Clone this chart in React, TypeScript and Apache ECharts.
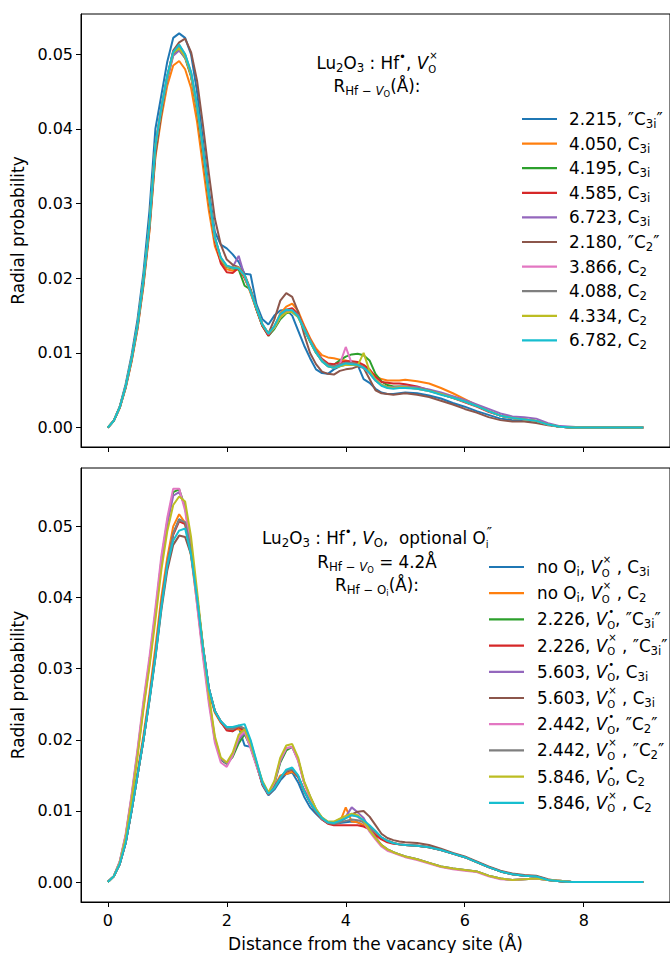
import React, { useEffect, useRef } from "react";
import * as echarts from "echarts";

// values are in units of 1e-4 (radial probability)
const UNIT = 1e-4;

const X_VALUES = [
  0, 0.1, 0.2, 0.3, 0.4, 0.5, 0.6, 0.7, 0.8, 0.9,
  1.0, 1.1, 1.2, 1.3, 1.4, 1.5, 1.6, 1.7, 1.8, 1.9,
  2.0, 2.1, 2.2, 2.3, 2.4, 2.5, 2.6, 2.7, 2.8, 2.9,
  3.0, 3.1, 3.2, 3.3, 3.4, 3.5, 3.6, 3.7, 3.8, 3.9,
  4.0, 4.1, 4.2, 4.3, 4.4, 4.5, 4.6, 4.7, 4.8, 4.9,
  5.0,
  5.2, 5.4, 5.6, 5.8, 6.0, 6.2, 6.4, 6.6, 6.8, 7.0,
  7.2, 7.4, 7.6, 7.8, 8.0, 8.2, 8.4, 8.6, 8.8, 9.0,
];

const X_TICKS = [0, 2, 4, 6, 8];
const Y_TICKS = [0, 0.01, 0.02, 0.03, 0.04, 0.05];

const COLORS = ["#1f77b4", "#ff7f0e", "#2ca02c", "#d62728", "#9467bd", "#8c564b", "#e377c2", "#7f7f7f", "#bcbd22", "#17becf"];

// ---------- top panel ----------
const TOP_1 = [
  0, 9, 28, 58, 97, 145, 208, 290, 400, 445,
  490, 522, 528, 522, 500, 450, 385, 318, 262, 245,
  240, 232, 222, 206, 205, 165, 145, 138, 150, 157,
  158, 150, 130, 110, 93, 78, 73, 72, 78, 82,
  84, 86, 84, 65, 60, 52, 47, 45, 45, 46,
  47,
  46, 43, 39, 33, 28, 22, 17, 12, 10, 9, 7, 4, 1, 0, 0, 0, 0, 0, 0, 0,
];
const TOP_2 = [
  0, 9, 26, 53, 88, 132, 190, 262, 362, 415,
  458, 485, 491, 480, 455, 410, 350, 290, 243, 222,
  212, 210, 212, 203, 180, 158, 136, 124, 135, 153,
  162, 166, 156, 137, 120, 106, 97, 94, 93, 91,
  90, 88, 86, 81, 76, 69, 65, 63, 63, 63,
  64,
  62, 59, 53, 46, 38, 30, 22, 16, 13, 11, 9, 4, 1, 0, 0, 0, 0, 0, 0, 0,
];
const TOP_3 = [
  0, 9, 27, 55, 92, 137, 198, 272, 376, 426,
  468, 500, 506, 495, 470, 425, 367, 304, 252, 225,
  215, 213, 212, 190, 185, 158, 136, 123, 132, 145,
  153, 155, 148, 132, 115, 100, 90, 85, 84, 90,
  95, 98, 99, 97, 90, 72, 62, 57, 55, 55,
  55,
  53, 50, 45, 40, 35, 29, 22, 16, 13, 11, 9, 4, 1, 0, 0, 0, 0, 0, 0, 0,
];
const TOP_4 = [
  0, 9, 27, 55, 92, 137, 198, 272, 378, 428,
  470, 503, 510, 498, 472, 428, 368, 305, 250, 220,
  208, 207, 214, 200, 182, 158, 136, 123, 135, 150,
  158, 160, 152, 135, 118, 103, 92, 86, 85, 87,
  89, 89, 88, 84, 78, 68, 61, 60, 59, 59,
  58,
  55, 50, 45, 40, 34, 28, 21, 16, 13, 11, 9, 4, 1, 0, 0, 0, 0, 0, 0, 0,
];
const TOP_5 = [
  0, 9, 27, 55, 92, 137, 197, 270, 374, 424,
  466, 498, 505, 496, 472, 430, 372, 308, 254, 226,
  216, 215, 230, 203, 183, 160, 138, 125, 134, 148,
  155, 156, 149, 132, 116, 101, 89, 82, 80, 83,
  86, 86, 84, 80, 73, 63, 57, 54, 54, 55,
  55,
  54, 51, 47, 42, 37, 31, 25, 19, 15, 14, 12, 6, 2, 1, 0, 0, 0, 0, 0, 0,
];
const TOP_6 = [
  0, 9, 26, 53, 89, 133, 192, 265, 365, 420,
  470, 505, 516, 521, 503, 465, 405, 340, 280, 245,
  225, 218, 215, 205, 185, 160, 137, 126, 145, 170,
  180, 175, 155, 125, 100, 85, 75, 72, 71, 76,
  78, 79, 82, 80, 65, 50, 46, 45, 44, 45,
  46,
  44, 41, 36, 31, 25, 20, 14, 10, 8, 8, 6, 3, 1, 0, 0, 0, 0, 0, 0, 0,
];
const TOP_7 = [
  0, 9, 27, 55, 92, 137, 198, 272, 377, 427,
  470, 502, 510, 498, 474, 430, 372, 308, 254, 226,
  216, 214, 214, 203, 182, 160, 138, 126, 134, 148,
  155, 157, 150, 133, 117, 102, 90, 83, 82, 85,
  108, 86, 84, 80, 73, 63, 57, 54, 53, 54,
  54,
  52, 49, 45, 40, 35, 29, 22, 16, 13, 11, 9, 4, 1, 0, 0, 0, 0, 0, 0, 0,
];
const TOP_8 = [
  0, 9, 27, 55, 92, 137, 198, 272, 377, 427,
  470, 503, 512, 500, 476, 432, 374, 310, 255, 227,
  216, 214, 214, 204, 183, 160, 138, 126, 135, 150,
  157, 157, 150, 133, 117, 102, 90, 84, 82, 85,
  87, 87, 85, 81, 74, 64, 57, 54, 53, 54,
  54,
  53, 50, 45, 40, 35, 29, 22, 16, 13, 11, 9, 4, 1, 0, 0, 0, 0, 0, 0, 0,
];
const TOP_9 = [
  0, 9, 27, 55, 92, 137, 198, 272, 377, 427,
  470, 502, 508, 497, 473, 430, 372, 308, 254, 226,
  216, 214, 214, 203, 182, 160, 138, 126, 134, 148,
  154, 155, 148, 132, 116, 101, 89, 82, 80, 82,
  84, 84, 83, 100, 76, 64, 57, 54, 53, 54,
  54,
  52, 49, 45, 40, 35, 29, 22, 16, 13, 11, 9, 4, 1, 0, 0, 0, 0, 0, 0, 0,
];
const TOP_10 = [
  0, 9, 27, 55, 92, 137, 198, 272, 378, 428,
  472, 503, 513, 500, 476, 432, 374, 310, 255, 228,
  217, 214, 213, 204, 182, 160, 138, 126, 136, 152,
  158, 157, 149, 132, 116, 101, 89, 82, 80, 83,
  86, 85, 84, 80, 73, 63, 56, 53, 52, 53,
  53,
  52, 49, 44, 40, 35, 29, 22, 16, 13, 11, 9, 4, 1, 0, 0, 0, 0, 0, 0, 0,
];

// ---------- bottom panel ----------
const BOT_1 = [
  0, 8, 25, 55, 100, 150, 200, 257, 318, 388,
  447, 490, 510, 505, 465, 400, 330, 272, 240, 225,
  214, 212, 218, 192, 190, 165, 136, 122, 130, 143,
  152, 154, 140, 120, 105, 96, 88, 83, 82, 83,
  84, 85, 84, 80, 74, 68, 62, 58, 55, 53,
  52,
  51, 49, 45, 40, 35, 28, 21, 15, 11, 9, 8, 3, 1, 0, 0, 0, 0, 0, 0, 0,
];
const BOT_2 = [
  0, 8, 26, 57, 103, 155, 207, 265, 330, 400,
  456, 500, 517, 505, 458, 392, 322, 266, 238, 224,
  216, 214, 215, 210, 195, 165, 138, 124, 134, 150,
  152, 155, 148, 130, 113, 100, 90, 84, 82, 84,
  105, 85, 84, 80, 74, 68, 62, 58, 55, 53,
  52,
  51, 49, 45, 40, 35, 28, 21, 15, 11, 9, 8, 3, 1, 0, 0, 0, 0, 0, 0, 0,
];
const BOT_3 = [
  0, 8, 28, 65, 120, 183, 250, 310, 378, 452,
  507, 548, 552, 527, 472, 397, 322, 256, 200, 172,
  166, 176, 195, 208, 190, 165, 140, 125, 138, 168,
  185, 190, 172, 140, 120, 102, 90, 84, 84, 88,
  92, 95, 93, 85, 72, 62, 52, 46, 42, 39,
  36,
  32, 27, 22, 19, 17, 15, 9, 5, 3, 4, 5, 3, 2, 0, 0, 0, 0, 0, 0, 0,
];
const BOT_4 = [
  0, 8, 25, 55, 100, 150, 200, 257, 318, 390,
  446, 488, 507, 503, 466, 402, 331, 271, 240, 225,
  213, 212, 218, 212, 195, 165, 138, 123, 132, 146,
  155, 158, 148, 128, 112, 98, 88, 82, 80, 80,
  80, 80, 80, 78, 74, 66, 60, 56, 54, 53,
  52,
  51, 49, 45, 40, 35, 28, 21, 15, 11, 9, 8, 3, 1, 0, 0, 0, 0, 0, 0, 0,
];
const BOT_5 = [
  0, 8, 28, 64, 118, 180, 246, 306, 375, 448,
  503, 543, 548, 528, 475, 400, 324, 258, 202, 173,
  167, 180, 200, 210, 190, 165, 140, 125, 140, 170,
  188, 190, 172, 140, 120, 102, 90, 84, 84, 88,
  92, 105, 98, 90, 75, 63, 52, 46, 42, 39,
  36,
  32, 27, 22, 19, 17, 15, 9, 5, 3, 4, 5, 3, 2, 0, 0, 0, 0, 0, 0, 0,
];
const BOT_6 = [
  0, 8, 25, 55, 100, 150, 200, 255, 315, 382,
  438, 474, 487, 485, 460, 400, 331, 272, 240, 226,
  217, 216, 220, 215, 196, 166, 138, 124, 133, 147,
  156, 158, 148, 128, 112, 99, 89, 83, 82, 85,
  90, 95, 99, 100, 92, 80, 68, 62, 59, 57,
  56,
  55, 52, 47, 41, 36, 29, 22, 16, 12, 10, 9, 4, 1, 0, 0, 0, 0, 0, 0, 0,
];
const BOT_7 = [
  0, 8, 29, 67, 123, 187, 255, 316, 385, 458,
  512, 553, 553, 522, 465, 390, 316, 250, 196, 168,
  162, 178, 204, 212, 188, 163, 139, 124, 140, 172,
  188, 190, 170, 139, 118, 101, 89, 84, 84, 88,
  92, 94, 92, 84, 71, 60, 50, 44, 41, 38,
  35,
  31, 26, 21, 18, 16, 14, 8, 4, 3, 4, 5, 3, 2, 0, 0, 0, 0, 0, 0, 0,
];
const BOT_8 = [
  0, 8, 25, 55, 100, 150, 200, 258, 320, 390,
  447, 490, 509, 506, 468, 402, 332, 272, 241, 226,
  216, 215, 219, 216, 198, 168, 139, 124, 133, 147,
  156, 159, 149, 129, 112, 99, 89, 83, 82, 84,
  86, 88, 87, 84, 78, 70, 63, 58, 55, 53,
  52,
  51, 49, 45, 40, 35, 28, 21, 15, 11, 9, 8, 3, 1, 0, 0, 0, 0, 0, 0, 0,
];
const BOT_9 = [
  0, 8, 27, 62, 115, 177, 243, 302, 368, 438,
  493, 530, 542, 535, 485, 410, 332, 262, 205, 175,
  168, 182, 207, 215, 194, 168, 142, 126, 142, 175,
  192, 194, 175, 142, 121, 103, 91, 85, 85, 89,
  93, 96, 94, 86, 73, 62, 52, 46, 42, 39,
  36,
  32, 27, 22, 19, 17, 15, 9, 5, 3, 4, 5, 3, 2, 0, 0, 0, 0, 0, 0, 0,
];
const BOT_10 = [
  0, 8, 25, 55, 100, 150, 200, 255, 315, 385,
  445, 480, 494, 497, 460, 400, 330, 272, 240, 226,
  218, 218, 220, 222, 200, 170, 140, 124, 132, 146,
  158, 161, 150, 128, 112, 100, 90, 84, 83, 86,
  90, 94, 92, 87, 80, 72, 63, 58, 55, 53,
  52,
  51, 49, 45, 40, 35, 28, 21, 15, 11, 9, 8, 3, 1, 0, 0, 0, 0, 0, 0, 0,
];

const TOP_SERIES = [TOP_1, TOP_2, TOP_3, TOP_4, TOP_5, TOP_6, TOP_7, TOP_8, TOP_9, TOP_10];
const BOT_SERIES = [BOT_1, BOT_2, BOT_3, BOT_4, BOT_5, BOT_6, BOT_7, BOT_8, BOT_9, BOT_10];

const TOP_NAMES = ["2.215, ″C3i″", "4.050, C3i", "4.195, C3i", "4.585, C3i", "6.723, C3i", "2.180, ″C2″", "3.866, C2", "4.088, C2", "4.334, C2", "6.782, C2"];
const BOT_NAMES = ["no Oi, VO×, C3i", "no Oi, VO×, C2", "2.226, VO•, ″C3i″", "2.226, VO×, ″C3i″", "5.603, VO•, C3i", "5.603, VO×, C3i", "2.442, VO•, ″C2″", "2.442, VO×, ″C2″", "5.846, VO•, C2", "5.846, VO×, C2"];

// segment kinds: n normal, i italic, b subscript, bi italic subscript, bb sub-subscript, p superscript, s stacked [sup, sub, supScale?]
type Seg = string[];

const TOP_LEGEND: Seg[][] = [
  [["n", "2.215, ″C"], ["b", "3i"], ["n", "″"]],
  [["n", "4.050, C"], ["b", "3i"]],
  [["n", "4.195, C"], ["b", "3i"]],
  [["n", "4.585, C"], ["b", "3i"]],
  [["n", "6.723, C"], ["b", "3i"]],
  [["n", "2.180, ″C"], ["b", "2"], ["n", "″"]],
  [["n", "3.866, C"], ["b", "2"]],
  [["n", "4.088, C"], ["b", "2"]],
  [["n", "4.334, C"], ["b", "2"]],
  [["n", "6.782, C"], ["b", "2"]],
];

const BOT_LEGEND: Seg[][] = [
  [["n", "no O"], ["b", "i"], ["n", ", "], ["i", "V"], ["s", "×", "O"], ["n", " , C"], ["b", "3i"]],
  [["n", "no O"], ["b", "i"], ["n", ", "], ["i", "V"], ["s", "×", "O"], ["n", " , C"], ["b", "2"]],
  [["n", "2.226, "], ["i", "V"], ["s", "•", "O"], ["n", ", ″C"], ["b", "3i"], ["n", "″"]],
  [["n", "2.226, "], ["i", "V"], ["s", "×", "O"], ["n", " , ″C"], ["b", "3i"], ["n", "″"]],
  [["n", "5.603, "], ["i", "V"], ["s", "•", "O"], ["n", ", C"], ["b", "3i"]],
  [["n", "5.603, "], ["i", "V"], ["s", "×", "O"], ["n", " , C"], ["b", "3i"]],
  [["n", "2.442, "], ["i", "V"], ["s", "•", "O"], ["n", ", ″C"], ["b", "2"], ["n", "″"]],
  [["n", "2.442, "], ["i", "V"], ["s", "×", "O"], ["n", " , ″C"], ["b", "2"], ["n", "″"]],
  [["n", "5.846, "], ["i", "V"], ["s", "•", "O"], ["n", ", C"], ["b", "2"]],
  [["n", "5.846, "], ["i", "V"], ["s", "×", "O"], ["n", " , C"], ["b", "2"]],
];

const TOP_TITLE: Seg[][] = [
  [["n", "Lu"], ["b", "2"], ["n", "O"], ["b", "3"], ["n", " : Hf"], ["p", "•"], ["n", ", "], ["i", "V"], ["s", "×", "O"]],
  [["n", "R"], ["b", "Hf − "], ["bi", "V"], ["bb", "O"], ["n", "(Å):"]],
];
const BOT_TITLE: Seg[][] = [
  [["n", "Lu"], ["b", "2"], ["n", "O"], ["b", "3"], ["n", " : Hf"], ["p", "•"], ["n", ", "], ["i", "V"], ["b", "O"], ["n", ",  optional O"], ["s", "″", "i", "0.85"]],
  [["n", "R"], ["b", "Hf − "], ["bi", "V"], ["bb", "O"], ["n", " = 4.2Å"]],
  [["n", "R"], ["b", "Hf − O"], ["bb", "i"], ["n", "(Å):"]],
];

const Y_TITLE = "Radial probability";
const X_TITLE = "Distance from the vacancy site (Å)";

const FAMILY = "DejaVu Sans";

function composeText(ctx: CanvasRenderingContext2D, segs: Seg[], size: number, x0: number, cy: number, center: boolean) {
  const meas = (t: string, s: number, it: boolean) => {
    ctx.font = `${it ? "italic " : ""}${s}px "${FAMILY}"`;
    return ctx.measureText(t).width;
  };
  const pieces: { t: string; x: number; dy: number; s: number; it: boolean }[] = [];
  let x = 0;
  for (const seg of segs) {
    const k = seg[0];
    if (k === "s") {
      const s = size * 0.6;
      const sp = seg[3] ? size * parseFloat(seg[3]) : s;
      const w1 = meas(seg[1], sp, false);
      const w2 = meas(seg[2], s, false);
      pieces.push({ t: seg[1], x: x + 1, dy: seg[3] ? -0.34 * size : -0.46 * size, s: sp, it: false });
      pieces.push({ t: seg[2], x, dy: 0.36 * size, s, it: false });
      x += Math.max(w1 + 1, w2);
    } else {
      let s = size, dy = 0, it = false;
      if (k === "i") it = true;
      if (k === "b") { s = size * 0.7; dy = 0.3 * size; }
      if (k === "bi") { s = size * 0.7; dy = 0.3 * size; it = true; }
      if (k === "bb") { s = size * 0.5; dy = 0.48 * size; }
      if (k === "p") { s = size * 0.7; dy = -0.38 * size; }
      const w = meas(seg[1], s, it);
      pieces.push({ t: seg[1], x, dy, s, it });
      x += w;
    }
  }
  const start = center ? x0 - x / 2 : x0;
  return pieces.map((p) => ({
    type: "text",
    x: start + p.x,
    y: cy + p.dy,
    silent: true,
    style: {
      text: p.t,
      fontSize: p.s,
      fontFamily: FAMILY,
      fontStyle: p.it ? "italic" : "normal",
      fill: "#000",
      textAlign: "left",
      textVerticalAlign: "middle",
      align: "left",
      verticalAlign: "middle",
    },
  }));
}

export default function App() {
  const ref = useRef<HTMLDivElement>(null);

  useEffect(() => {
    if (!ref.current) return;
    const chart = echarts.init(ref.current, undefined, { renderer: "svg" });
    const canvas = document.createElement("canvas");
    const ctx = canvas.getContext("2d") as CanvasRenderingContext2D;

    const tickFont = { fontSize: 16, fontFamily: FAMILY, color: "#000" };
    const nameFont = { fontSize: 17, fontFamily: FAMILY, color: "#000" };

    const mkX = (gi: number, labels: boolean) => ({
      type: "value",
      gridIndex: gi,
      min: -0.45,
      max: 9.45,
      splitLine: { show: false },
      axisLine: { show: true, onZero: false, lineStyle: { color: "#000", width: 1 } },
      axisTick: { show: true, customValues: X_TICKS, length: 5, inside: false, lineStyle: { color: "#000", width: 1 } },
      axisLabel: { show: labels, customValues: X_TICKS, formatter: (v: number) => String(v), margin: 10, ...tickFont },
      ...(labels
        ? { name: X_TITLE, nameLocation: "middle", nameGap: 33, nameTextStyle: { ...nameFont } }
        : {}),
    });

    const mkY = (gi: number, min: number, max: number) => ({
      type: "value",
      gridIndex: gi,
      min,
      max,
      splitLine: { show: false },
      axisLine: { show: true, onZero: false, lineStyle: { color: "#000", width: 1 } },
      axisTick: { show: true, customValues: Y_TICKS, length: 5, inside: false, lineStyle: { color: "#000", width: 1 } },
      axisLabel: { show: true, customValues: Y_TICKS, formatter: (v: number) => v.toFixed(2), margin: 8, ...tickFont },
      name: Y_TITLE,
      nameLocation: "middle",
      nameGap: 52,
      nameRotate: 90,
      nameTextStyle: { ...nameFont },
    });

    const series: any[] = [];
    TOP_SERIES.forEach((arr, i) => {
      series.push({
        type: "line",
        name: TOP_NAMES[i],
        xAxisIndex: 0,
        yAxisIndex: 0,
        showSymbol: false,
        symbol: "none",
        lineStyle: { color: COLORS[i], width: 2 },
        itemStyle: { color: COLORS[i] },
        data: X_VALUES.map((x, j) => [x, arr[j] * UNIT]),
      });
    });
    BOT_SERIES.forEach((arr, i) => {
      series.push({
        type: "line",
        name: BOT_NAMES[i],
        xAxisIndex: 1,
        yAxisIndex: 1,
        showSymbol: false,
        symbol: "none",
        lineStyle: { color: COLORS[i], width: 2 },
        itemStyle: { color: COLORS[i] },
        data: X_VALUES.map((x, j) => [x, arr[j] * UNIT]),
      });
    });

    const graphic: any[] = [];
    const annSize = 16.8;
    const topTitleY = [63, 86];
    TOP_TITLE.forEach((segs, i) => graphic.push(...composeText(ctx, segs, annSize, 377, topTitleY[i], true)));
    const botTitleY = [538, 562, 585];
    BOT_TITLE.forEach((segs, i) => graphic.push(...composeText(ctx, segs, annSize, 377, botTitleY[i], true)));

    TOP_LEGEND.forEach((segs, i) => {
      const y = 119 + i * 24.6;
      graphic.push({ type: "line", silent: true, shape: { x1: 522, y1: y, x2: 557, y2: y }, style: { stroke: COLORS[i], lineWidth: 2.2 } });
      graphic.push(...composeText(ctx, segs, annSize, 569, y, false));
    });
    BOT_LEGEND.forEach((segs, i) => {
      const y = 567 + i * 26.2;
      graphic.push({ type: "line", silent: true, shape: { x1: 489, y1: y, x2: 524, y2: y }, style: { stroke: COLORS[i], lineWidth: 2.2 } });
      graphic.push(...composeText(ctx, segs, annSize, 537, y, false));
    });

    chart.setOption({
      animation: false,
      backgroundColor: "#fff",
      grid: [
        { left: 81, top: 14, width: 595, height: 433, show: true, borderColor: "#000", borderWidth: 1, backgroundColor: "transparent" },
        { left: 81, top: 468, width: 595, height: 435, show: true, borderColor: "#000", borderWidth: 1, backgroundColor: "transparent" },
      ],
      xAxis: [mkX(0, false), mkX(1, true)],
      yAxis: [mkY(0, -0.0026, 0.0554), mkY(1, -0.0028, 0.0582)],
      series,
      graphic,
    });

    return () => chart.dispose();
  }, []);

  return <div ref={ref} style={{ position: "fixed", left: 0, top: 0, width: 670, height: 953 }} />;
}
